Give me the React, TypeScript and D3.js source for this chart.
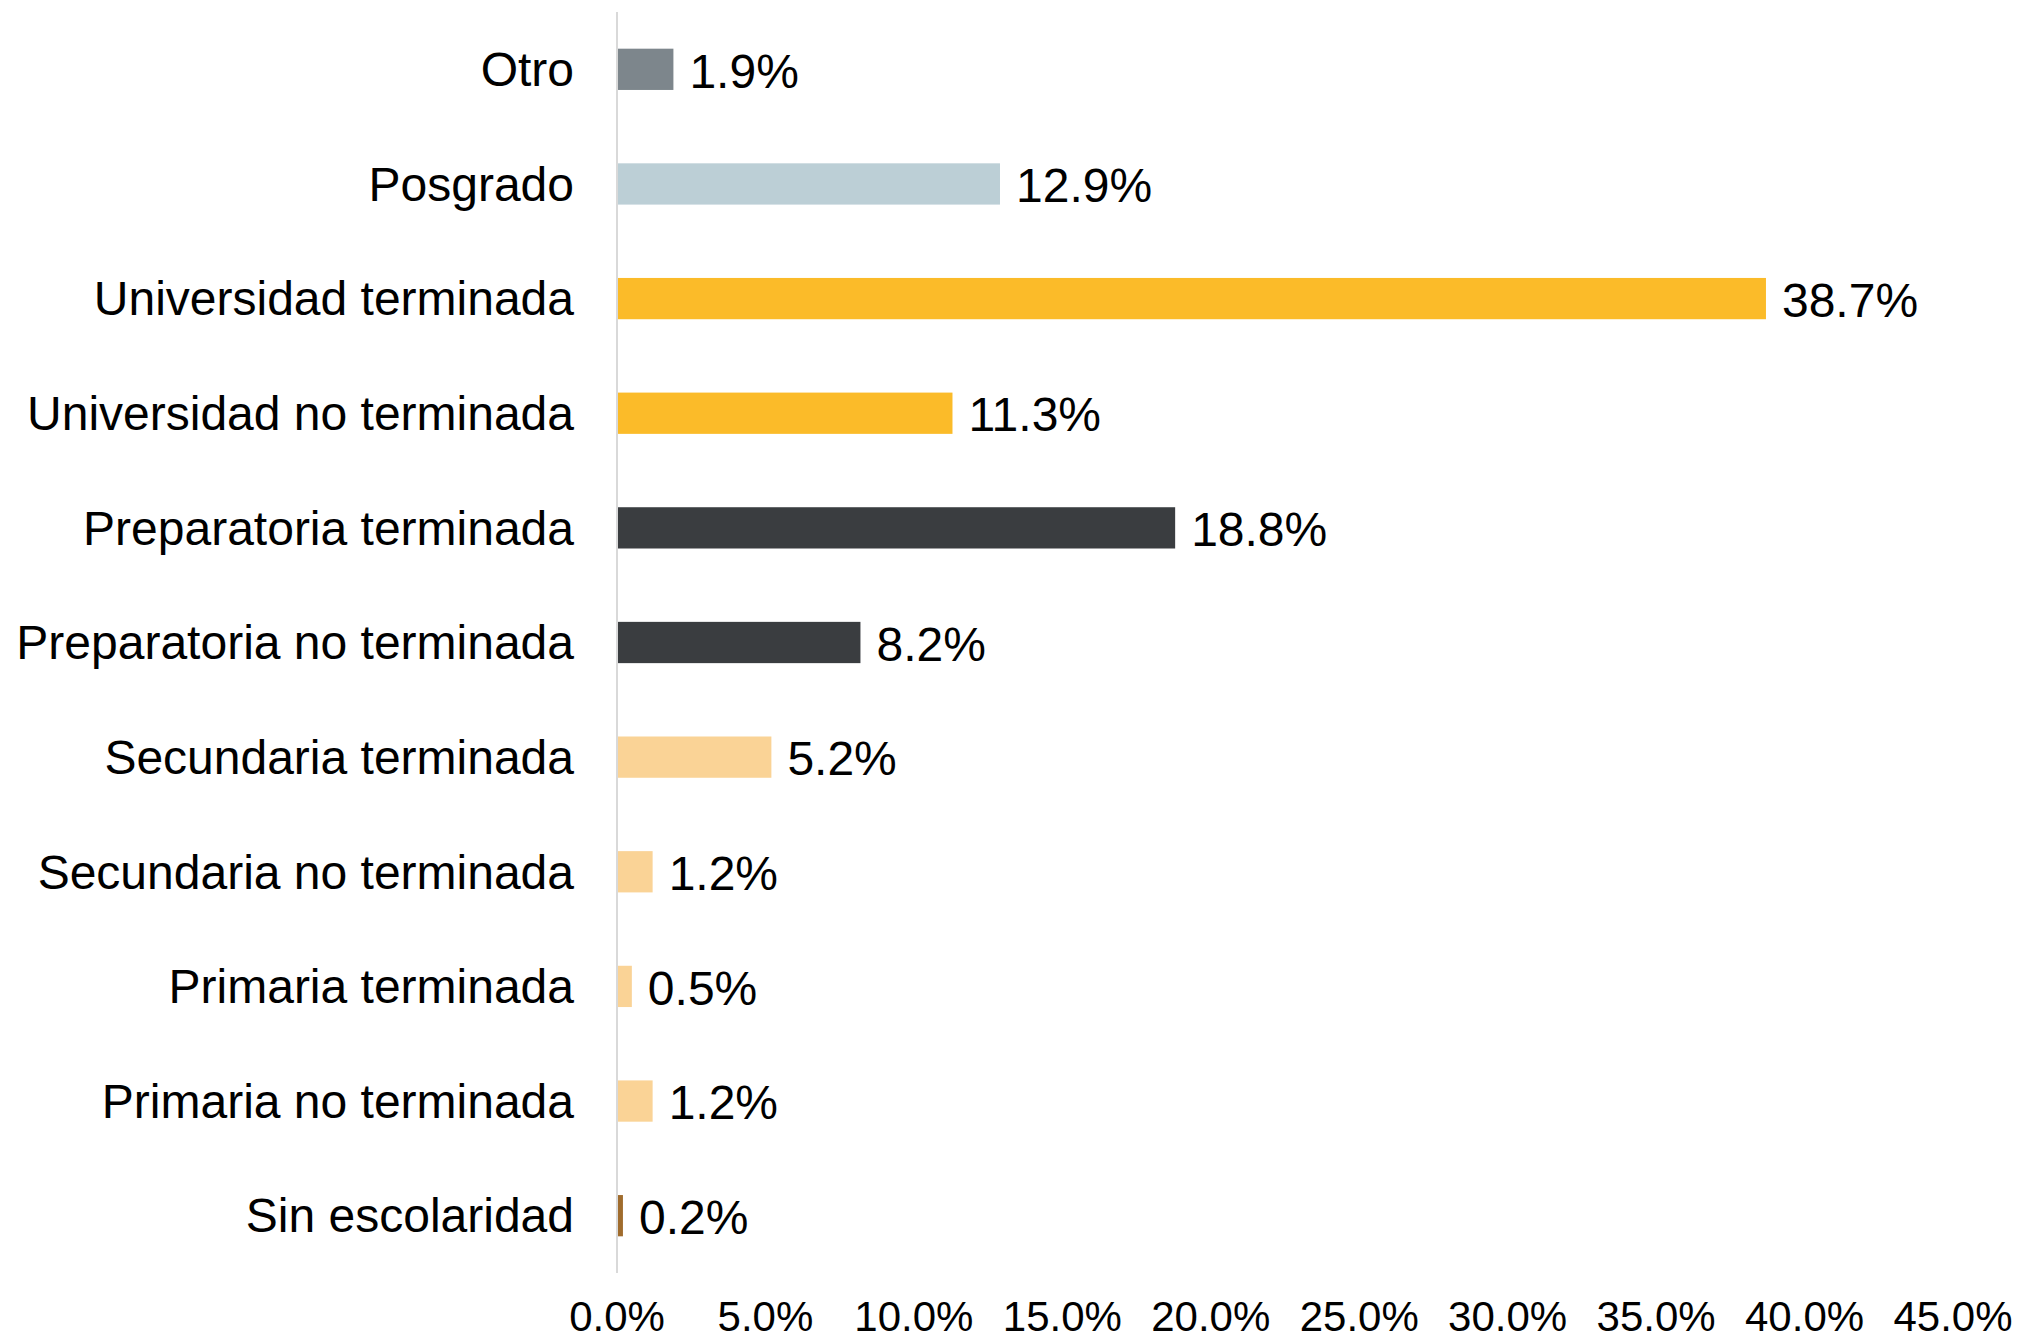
import React from "react";
import * as d3 from "d3";

const categories = [
  "Otro",
  "Posgrado",
  "Universidad terminada",
  "Universidad no terminada",
  "Preparatoria terminada",
  "Preparatoria no terminada",
  "Secundaria terminada",
  "Secundaria no terminada",
  "Primaria terminada",
  "Primaria no terminada",
  "Sin escolaridad",
];
const values = [1.9, 12.9, 38.7, 11.3, 18.8, 8.2, 5.2, 1.2, 0.5, 1.2, 0.2];
const colors = [
  "#7d868c",
  "#bccfd6",
  "#fbbb29",
  "#fbbb29",
  "#3a3d40",
  "#3a3d40",
  "#fad396",
  "#fad396",
  "#fad396",
  "#fad396",
  "#a06c2d",
];
const ticks = [0, 5, 10, 15, 20, 25, 30, 35, 40, 45];

const W = 2020;
const H = 1341;
const FONT = "'Liberation Sans', Arial, Helvetica, sans-serif";

export default function App() {
  const x = d3.scaleLinear().domain([0, 45]).range([617, 1953]);
  const y = d3
    .scaleBand<string>()
    .domain(categories)
    .range([12, 1273])
    .paddingInner(0.64)
    .paddingOuter(0.32);
  const bw = y.bandwidth();
  const labelFs = 48;
  const tickFs = 42;

  return (
    <svg
      width={W}
      height={H}
      style={{ position: "absolute", left: 0, top: 0, background: "#fff" }}
      fontFamily={FONT}
    >
      <rect x={0} y={0} width={W} height={H} fill="#fff" />
      {categories.map((c, i) => {
        const yc = (y(c) as number) + bw / 2;
        return (
          <g key={c}>
            <rect
              x={x(0)}
              y={y(c) as number}
              width={x(values[i]) - x(0)}
              height={bw}
              fill={colors[i]}
            />
            <text
              x={574}
              y={yc + 0.35 * labelFs}
              textAnchor="end"
              fontSize={labelFs}
              fill="#000"
            >
              {c}
            </text>
            <text
              x={x(values[i]) + 16}
              y={yc + 0.38 * labelFs}
              textAnchor="start"
              fontSize={labelFs}
              fill="#000"
            >
              {values[i].toFixed(1) + "%"}
            </text>
          </g>
        );
      })}
      <line x1={x(0)} x2={x(0)} y1={12} y2={1273} stroke="#d9d9d9" strokeWidth={2} />
      {ticks.map((t) => (
        <text
          key={t}
          x={x(t)}
          y={1331}
          textAnchor="middle"
          fontSize={tickFs}
          fill="#000"
        >
          {t.toFixed(1) + "%"}
        </text>
      ))}
    </svg>
  );
}
